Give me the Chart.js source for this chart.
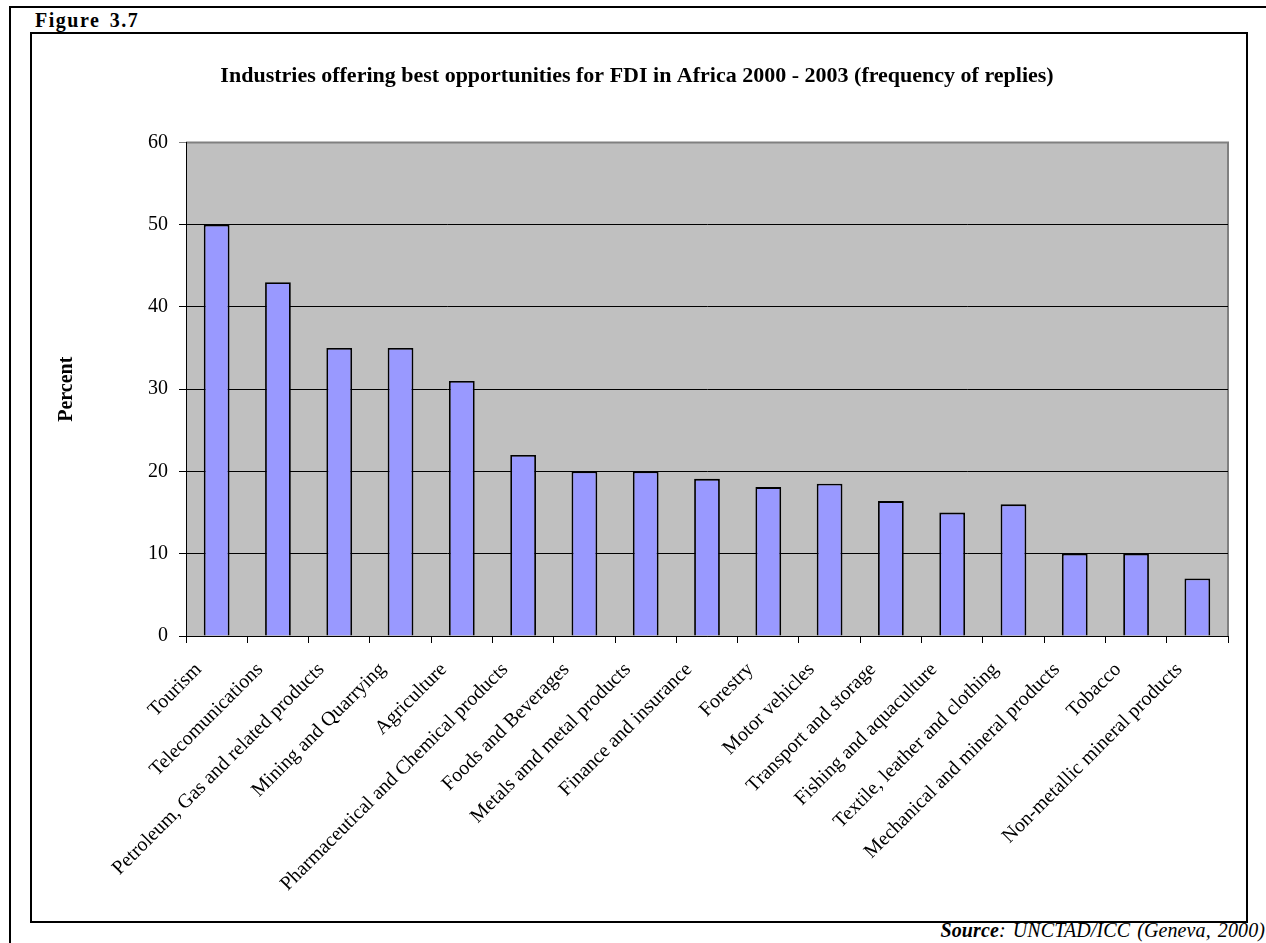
<!DOCTYPE html>
<html>
<head>
<meta charset="utf-8">
<script src="https://cdn.jsdelivr.net/npm/chart.js@4.4.1/dist/chart.umd.min.js"></script>
<style>
    body { margin: 0; background: #fff; }
    #page { position: relative; width: 1266px; height: 943px; overflow: hidden; font-family: "Liberation Serif", "Times New Roman", serif; }
    #outer { position: absolute; left: 9px; top: 6px; width: 1300px; height: 1000px; border-left: 2px solid #000; border-top: 2px solid #000; }
    #inner { position: absolute; left: 30px; top: 32px; width: 1218px; height: 891px; box-sizing: border-box; border: 2px solid #000; }
    #fig { position: absolute; left: 35px; top: 10px; font-size: 20px; line-height: 20px; font-weight: bold; letter-spacing: 1.5px; word-spacing: 3px; }
    #source { position: absolute; right: 1px; top: 920px; font-size: 20px; line-height: 20px; font-style: italic; letter-spacing: 0.1px; word-spacing: 2px; white-space: nowrap; }
    #chart { position: absolute; left: 0; top: 0; }
</style>
</head>
<body>
<div id="page">
    <div id="outer"></div>
    <div id="inner"></div>
    <div id="fig">Figure 3.7</div>
    <div id="source"><b>Source</b>: UNCTAD/ICC (Geneva, 2000)</div>
    <canvas id="chart" width="1266" height="943"></canvas>
</div>
<script>
const industries = [
    'Tourism', 'Telecomunications', 'Petroleum, Gas and related products', 'Mining and Quarrying',
    'Agriculture', 'Pharmaceutical and Chemical products', 'Foods and Beverages',
    'Metals amd metal products', 'Finance and insurance', 'Forestry', 'Motor vehicles',
    'Transport and storage', 'Fishing and aquaculture', 'Textile, leather and clothing',
    'Mechanical and mineral products', 'Tobacco', 'Non-metallic mineral products'
];
const percents = [50, 43, 35, 35, 31, 22, 20, 20, 19.1, 18.1, 18.5, 16.4, 15, 16, 10, 10, 7];
const chartTitle = 'Industries offering best opportunities for FDI in Africa 2000 - 2003 (frequency of replies)';
const yTitle = 'Percent';

// grey plot area with a grey top/right edge, like the Excel original
const plotBackground = {
    id: 'plotBackground',
    beforeDraw(chart) {
        const { ctx, chartArea: a } = chart;
        ctx.save();
        ctx.fillStyle = '#c0c0c0';
        ctx.fillRect(a.left, a.top, a.right - a.left, a.bottom - a.top);
        ctx.strokeStyle = '#808080';
        ctx.lineWidth = 2;
        ctx.beginPath();
        ctx.moveTo(a.left, a.top);
        ctx.lineTo(a.right, a.top);
        ctx.lineTo(a.right, a.bottom);
        ctx.stroke();
        ctx.restore();
    }
};

Chart.defaults.font.family = '"Liberation Serif", "Times New Roman", serif';
Chart.defaults.color = '#000';

new Chart(document.getElementById('chart'), {
    type: 'bar',
    data: {
        labels: industries,
        datasets: [{
            data: percents,
            backgroundColor: '#9999ff',
            borderColor: '#000',
            borderWidth: 1.8,
            barPercentage: 0.42,
            categoryPercentage: 1
        }]
    },
    options: {
        responsive: false,
        animation: false,
        devicePixelRatio: 1,
        layout: { padding: { left: 46, right: 38, top: 0, bottom: 0 } },
        plugins: {
            legend: { display: false },
            tooltip: { enabled: false },
            title: {
                display: true,
                text: chartTitle,
                font: { size: 22, weight: 'bold' },
                color: '#000',
                padding: { top: 63, bottom: 53 }
            }
        },
        scales: {
            x: {
                grid: { offset: true, drawOnChartArea: false, color: '#000', tickLength: 7 },
                border: { color: '#000', width: 1 },
                ticks: {
                    autoSkip: false, maxRotation: 45, minRotation: 45,
                    font: { size: 20 }, padding: 15, labelOffset: -18
                },
                afterFit(scale) { scale.height = 307; }
            },
            y: {
                min: 0, max: 60,
                ticks: { stepSize: 10, font: { size: 20 }, padding: 11 },
                grid: {
                    color: ctx => ctx.tick && ctx.tick.value === 60 ? '#808080' : '#000',
                    tickLength: 7
                },
                border: { color: '#000', width: 1 },
                title: { display: true, text: yTitle, font: { size: 20, weight: 'bold' }, padding: { top: 9 } },
                afterFit(scale) { scale.width = 140; }
            }
        }
    },
    plugins: [plotBackground]
});
</script>
</body>
</html>
